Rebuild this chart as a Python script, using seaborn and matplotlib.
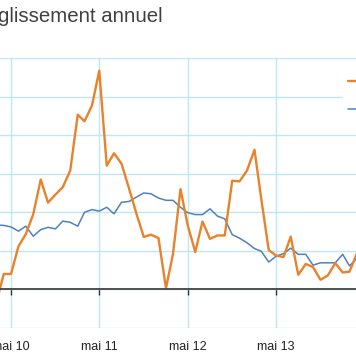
import matplotlib

matplotlib.use("Agg")

import matplotlib.dates as mdates
import matplotlib.pyplot as plt
import pandas as pd
import seaborn as sns

# monthly values, March 2010 .. April 2014
months = pd.date_range("2010-03-01", periods=50, freq="MS")

orange_values = [
    -0.35, 0.40, 0.40, 1.12, 1.43, 1.95, 2.85, 2.25, 2.46, 2.65,
    3.08, 4.53, 4.36, 4.77, 5.67, 3.21, 3.53, 3.26, 2.62, 1.98,
    1.36, 1.42, 1.33, 0.03, 0.92, 2.60, 1.66, 0.97, 1.76, 1.31,
    1.40, 1.40, 2.82, 2.80, 3.08, 3.62, 2.35, 1.02, 0.88, 0.84,
    1.37, 0.38, 0.66, 0.58, 0.25, 0.36, 0.68, 0.44, 0.46, 0.94,
]
blue_values = [
    1.67, 1.66, 1.62, 1.51, 1.64, 1.38, 1.55, 1.61, 1.57, 1.77,
    1.74, 1.64, 2.00, 2.07, 2.03, 2.13, 1.96, 2.26, 2.28, 2.39,
    2.50, 2.48, 2.37, 2.31, 2.31, 2.13, 1.99, 1.94, 1.94, 2.09,
    1.90, 1.83, 1.42, 1.33, 1.21, 1.06, 0.99, 0.71, 0.86, 0.93,
    1.07, 0.91, 0.91, 0.63, 0.69, 0.69, 0.69, 0.91, 0.61, 0.81,
]
series_names = ["série 1", "série 2"]
y_ticks = list(range(-1, 7))

COLORS = {"série 1": "#E8822B", "série 2": "#4F81BD"}
GRID = "#BDE8F1"

df = pd.concat(
    [
        pd.DataFrame({"date": months, "valeur": orange_values, "série": series_names[0]}),
        pd.DataFrame({"date": months, "valeur": blue_values, "série": series_names[1]}),
    ],
    ignore_index=True,
)

sns.set_theme(style="white")
plt.rcParams["font.family"] = ["Liberation Sans", "DejaVu Sans"]

W, H = 356, 364
fig = plt.figure(figsize=(W / 100, H / 100), dpi=100)
ax = fig.add_axes([0, 1 - 328 / H, 1, (328 - 58) / H])

sns.lineplot(
    data=df,
    x="date",
    y="valeur",
    hue="série",
    hue_order=series_names,
    palette=COLORS,
    ax=ax,
    legend=False,
)
lines = ax.get_lines()
lines[0].set_linewidth(1.7)
lines[0].set_zorder(4)
lines[1].set_linewidth(1.1)
lines[1].set_zorder(3)

# x range: the picture is a crop, May ticks sit at ~88 px per year
may10 = mdates.date2num(pd.Timestamp("2010-05-01"))
may13 = mdates.date2num(pd.Timestamp("2013-05-01"))
px_per_day = 265 / (may13 - may10)
ax.set_xlim(may10 - 11 / px_per_day, may10 + 345 / px_per_day)
ax.set_ylim(-1, 6)

ax.xaxis.set_major_locator(mdates.MonthLocator(bymonth=5))
ax.xaxis.set_major_formatter(mdates.DateFormatter("mai %y"))
ax.set_yticks(y_ticks)
ax.tick_params(axis="y", left=False, labelleft=False)
ax.tick_params(axis="x", bottom=True, direction="out", length=4, width=1.0,
               color="#333333", pad=33, labelsize=9, labelcolor="#222222")

ax.set_axisbelow(True)
ax.grid(True, color=GRID, linewidth=1.0)

for side in ["left", "right", "top"]:
    ax.spines[side].set_visible(False)
ax.spines["bottom"].set_position(("data", 0))
ax.spines["bottom"].set_color("#444444")
ax.spines["bottom"].set_linewidth(1.3)
ax.spines["bottom"].set_zorder(5)

ax.set_xlabel("")
ax.set_ylabel("")

handles = [lines[0], lines[1]]
leg = ax.legend(
    handles,
    series_names,
    loc="upper left",
    bbox_to_anchor=(343 / W, 1 - (71 - 58) / (328 - 58)),
    borderaxespad=0,
    borderpad=0.4,
    labelspacing=1.3,
    handlelength=1.6,
    fontsize=9,
    frameon=True,
    fancybox=False,
)
leg.get_frame().set_facecolor("white")
leg.get_frame().set_edgecolor("white")
leg.get_frame().set_alpha(1)

fig.text(-2 / W, 1 - 22 / H, "glissement annuel", ha="left", va="baseline",
         fontsize=14.7, color="#404040")

fig.savefig("out.png", dpi=100)
